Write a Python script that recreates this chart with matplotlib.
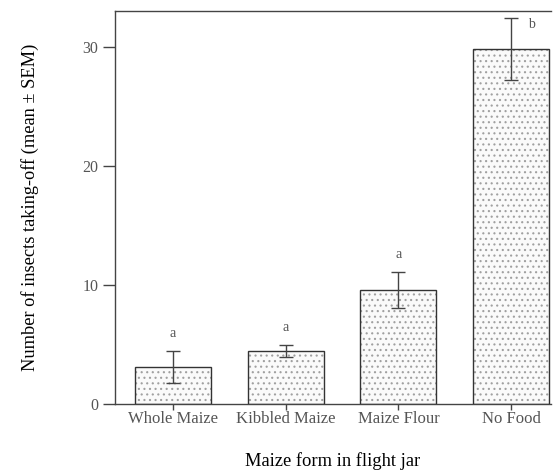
import matplotlib
matplotlib.use("Agg")
import matplotlib.pyplot as plt
import numpy as np

# values
categories = ["Whole Maize", "Kibbled Maize", "Maize Flour", "No Food"]
means = [3.1, 4.45, 9.6, 29.8]
sems = [1.35, 0.5, 1.5, 2.6]
letters = ["a", "a", "a", "b"]

plt.rcParams['font.family'] = ['Liberation Serif', 'DejaVu Serif']
plt.rcParams['hatch.linewidth'] = 0.8

fig = plt.figure(figsize=(5.53, 4.74), dpi=100)
ax = fig.add_axes([0.208, 0.1477, 0.7884, 0.8291])

x = np.arange(len(categories))
w = 0.675

# dotted fill, then a dark outline on top
ax.bar(x, means, width=w, color='#fafafa', edgecolor='#a0a0a0', hatch='...',
       linewidth=0, zorder=2)
ax.bar(x, means, width=w, fill=False, edgecolor='#333333', linewidth=1.0, zorder=3)

ax.errorbar(x, means, yerr=sems, fmt='none', ecolor='#444444', elinewidth=1.0,
            capsize=5, capthick=1.0, zorder=4)

for i, (m, s, lab) in enumerate(zip(means, sems, letters)):
    if lab == "b":
        ax.text(i + 0.15, m + s - 0.5, lab, ha='left', va='center',
                fontsize=10, color='#555555')
    else:
        ax.text(i, m + s + 1.45, lab, ha='center', va='center',
                fontsize=10, color='#555555')

ax.set_xlim(-0.515, 3.354)
ax.set_ylim(0, 33)
ax.set_yticks([0, 10, 20, 30])
ax.set_xticks(x)
ax.set_xticklabels(categories)

ax.spines['right'].set_visible(False)
for sp in ['left', 'top', 'bottom']:
    ax.spines[sp].set_color('#444444')
    ax.spines[sp].set_linewidth(1.0)

ax.tick_params(axis='y', direction='out', length=9, width=1.0, color='#444444',
               labelsize=11.5, labelcolor='#555555', pad=3)
ax.tick_params(axis='x', direction='out', length=4, width=1.0, color='#444444',
               labelsize=12, labelcolor='#555555', pad=1)

ax.set_xlabel("Maize form in flight jar", fontsize=13.3, labelpad=18)
ax.set_ylabel("Number of insects taking-off (mean \u00b1 SEM)", fontsize=13.2, labelpad=31)

fig.savefig("out.png", dpi=100)
